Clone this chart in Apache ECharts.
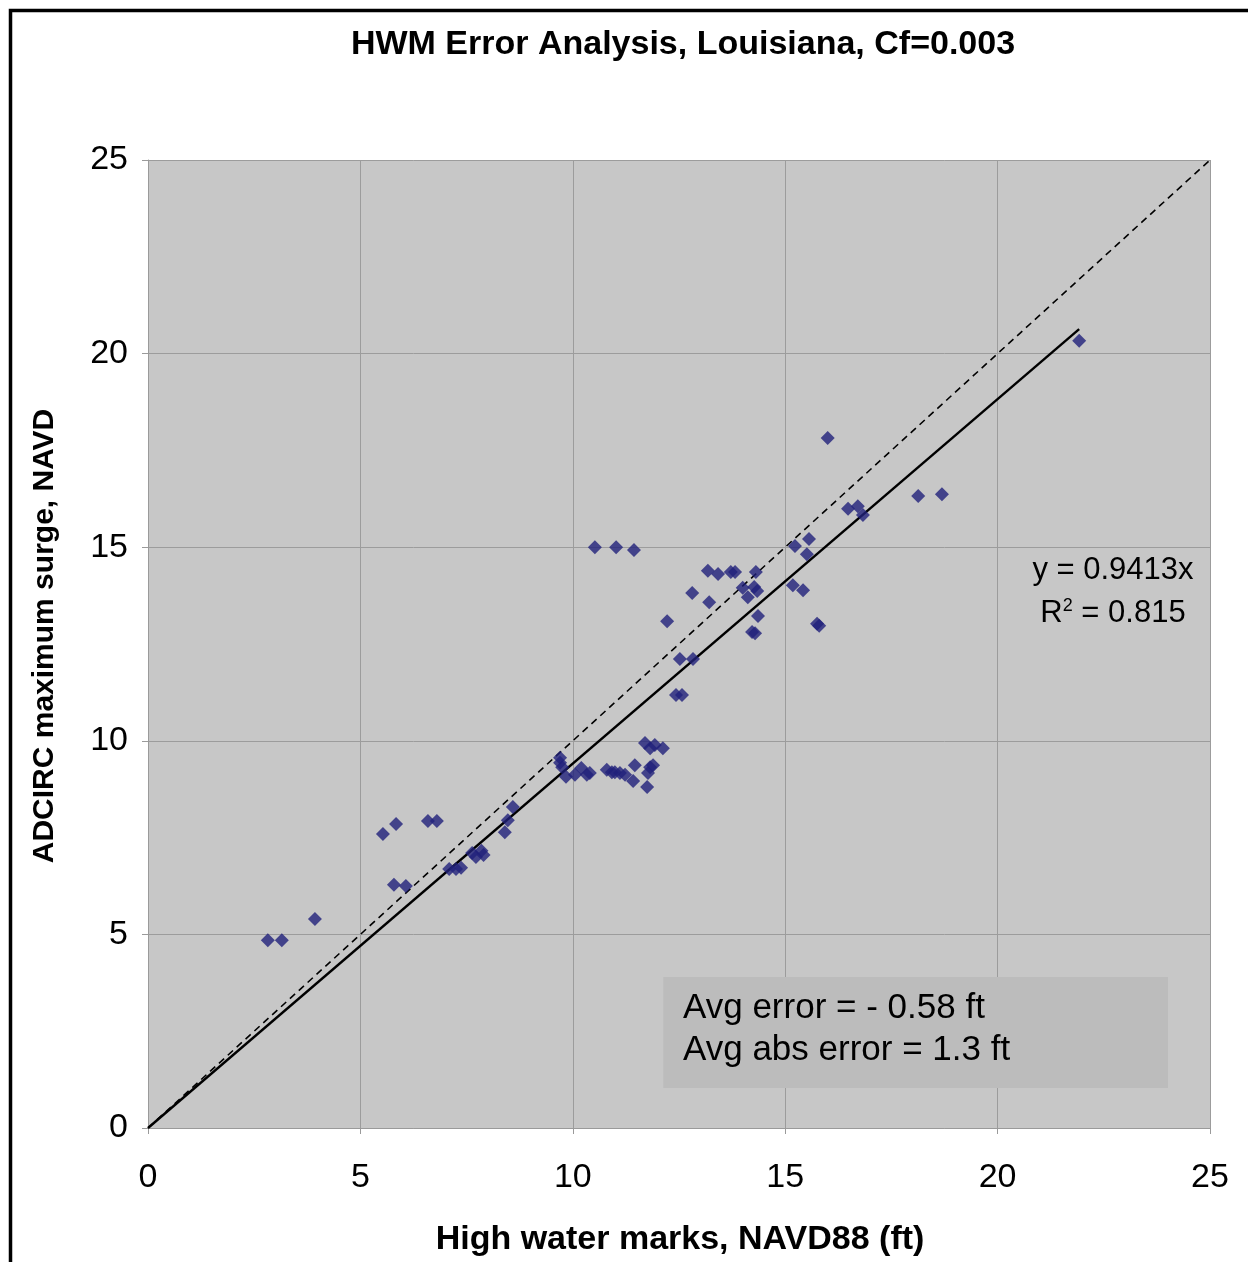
<!DOCTYPE html>
<html>
<head>
<meta charset="utf-8">
<script src="https://cdn.jsdelivr.net/npm/echarts@6/dist/echarts.min.js"></script>
<style>html,body{margin:0;padding:0;background:#fff}#c{width:1248px;height:1262px}</style>
</head>
<body>
<div id="c"></div>
<script>
// High water marks (x, ft) and ADCIRC maximum surge (y, ft)
const hwm = [2.82,3.15,3.93,5.53,5.84,5.79,6.07,6.59,6.80,7.09,7.25,7.37,7.63,7.72,7.85,7.90,8.40,8.47,8.59,
  9.70,9.70,9.75,9.84,10.05,10.20,10.33,10.40,10.80,10.92,10.99,11.11,11.23,11.46,11.42,11.75,11.77,11.82,11.89,
  11.70,11.82,11.93,12.12,10.52,11.02,11.44,13.18,13.42,13.72,13.82,14.31,14.00,14.27,14.34,14.12,12.81,13.21,
  12.22,14.36,14.22,14.29,12.52,12.83,12.43,12.57,15.23,15.56,15.51,15.18,15.42,15.75,15.80,16.00,16.48,16.71,
  16.83,18.13,18.69,21.92];
const adcirc = [4.85,4.85,5.40,7.59,7.85,6.28,6.25,7.93,7.93,6.69,6.69,6.72,7.10,7.00,7.16,7.05,7.64,7.95,8.29,
  9.56,9.43,9.32,9.07,9.12,9.30,9.12,9.17,9.25,9.19,9.19,9.17,9.12,9.37,8.96,8.81,9.17,9.32,9.37,
  9.94,9.81,9.89,9.81,15.00,15.00,14.93,14.39,14.31,14.36,14.36,14.36,13.95,13.97,13.87,13.71,13.82,13.58,
  13.09,13.22,12.81,12.78,12.11,12.11,11.18,11.18,15.03,15.21,14.82,14.02,13.89,13.02,12.97,17.82,15.99,16.06,
  15.83,16.32,16.37,20.33];
const trendSlope = 0.9413;
const rSquared = 0.815;
const avgError = '- 0.58';
const avgAbsError = '1.3';
const axisTicks = [0,5,10,15,20,25];
const statsBox = { x: [12.13, 24.01], y: [1.03, 3.9] };

const pts = hwm.map((x,i)=>[x, adcirc[i]]);
const xMax = Math.max(...hwm);
const trend = [[0,0],[xMax, trendSlope*xMax]];
const oneToOne = [[axisTicks[0],axisTicks[0]],[axisTicks[axisTicks.length-1],axisTicks[axisTicks.length-1]]];

const chart = echarts.init(document.getElementById('c'), null, {renderer:'canvas'});
const F = 'Liberation Sans, Arial, sans-serif';
chart.setOption({
  animation:false,
  backgroundColor:'#ffffff',
  grid:{left:148,right:38,top:160,bottom:134,show:true,backgroundColor:'#c7c7c7',borderWidth:0},
  xAxis:{type:'value',min:0,max:25,interval:5,
    axisLine:{show:true,lineStyle:{color:'#9a9a9a',width:1}},
    axisTick:{show:true,inside:false,length:6,lineStyle:{color:'#9a9a9a'}},
    splitLine:{show:true,lineStyle:{color:'#9c9c9c',width:1}},
    axisLabel:{fontFamily:F,fontSize:34,color:'#000',margin:33}},
  yAxis:{type:'value',min:0,max:25,interval:5,
    axisLine:{show:true,lineStyle:{color:'#9a9a9a',width:1}},
    axisTick:{show:true,inside:false,length:6,lineStyle:{color:'#9a9a9a'}},
    splitLine:{show:true,lineStyle:{color:'#9c9c9c',width:1}},
    axisLabel:{fontFamily:F,fontSize:34,color:'#000',margin:20}},
  series:[
    {type:'line',data:oneToOne,symbol:'none',silent:true,z:3,
     lineStyle:{color:'#000',width:1.6,type:[7,5]},
     markArea:{silent:true,itemStyle:{color:'#bcbcbc'},
       data:[[{coord:[statsBox.x[0],statsBox.y[0]]},{coord:[statsBox.x[1],statsBox.y[1]]}]]}},
    {type:'line',data:trend,symbol:'none',silent:true,z:4,lineStyle:{color:'#000',width:2.4}},
    {type:'scatter',data:pts,symbol:'diamond',symbolSize:14,z:5,itemStyle:{color:'#20207a'}}
  ],
  graphic:[
    {type:'rect',left:8,top:8,z:100,shape:{width:1260,height:1270},style:{fill:'none',stroke:'#000',lineWidth:3.5}},
    {type:'text',x:683,y:45,z:100,style:{text:'HWM Error Analysis, Louisiana, Cf=0.003',font:'bold 34px '+F,fill:'#000',textAlign:'center',textVerticalAlign:'middle'}},
    {type:'text',x:680,y:1240,z:100,style:{text:'High water marks, NAVD88 (ft)',font:'bold 34px '+F,fill:'#000',textAlign:'center',textVerticalAlign:'middle'}},
    {type:'text',x:45,y:636,z:100,rotation:Math.PI/2,style:{text:'ADCIRC maximum surge, NAVD',font:'bold 30px '+F,fill:'#000',textAlign:'center',textVerticalAlign:'middle'}},
    {type:'text',x:1113,y:570,z:100,style:{text:'y = '+trendSlope+'x',font:'31px '+F,fill:'#000',textAlign:'center',textVerticalAlign:'middle'}},
    {type:'text',x:1113,y:613,z:100,style:{text:'R{s|2} = '+rSquared,font:'31px '+F,fill:'#000',textAlign:'center',textVerticalAlign:'middle',
      rich:{s:{fontSize:18,fontFamily:F,verticalAlign:'top',padding:[0,0,12,0]}}}},
    {type:'text',x:683,y:1008,z:100,style:{text:'Avg error = '+avgError+' ft',font:'35px '+F,fill:'#000',textAlign:'left',textVerticalAlign:'middle'}},
    {type:'text',x:683,y:1050,z:100,style:{text:'Avg abs error = '+avgAbsError+' ft',font:'35px '+F,fill:'#000',textAlign:'left',textVerticalAlign:'middle'}}
  ]
});
</script>
</body>
</html>
